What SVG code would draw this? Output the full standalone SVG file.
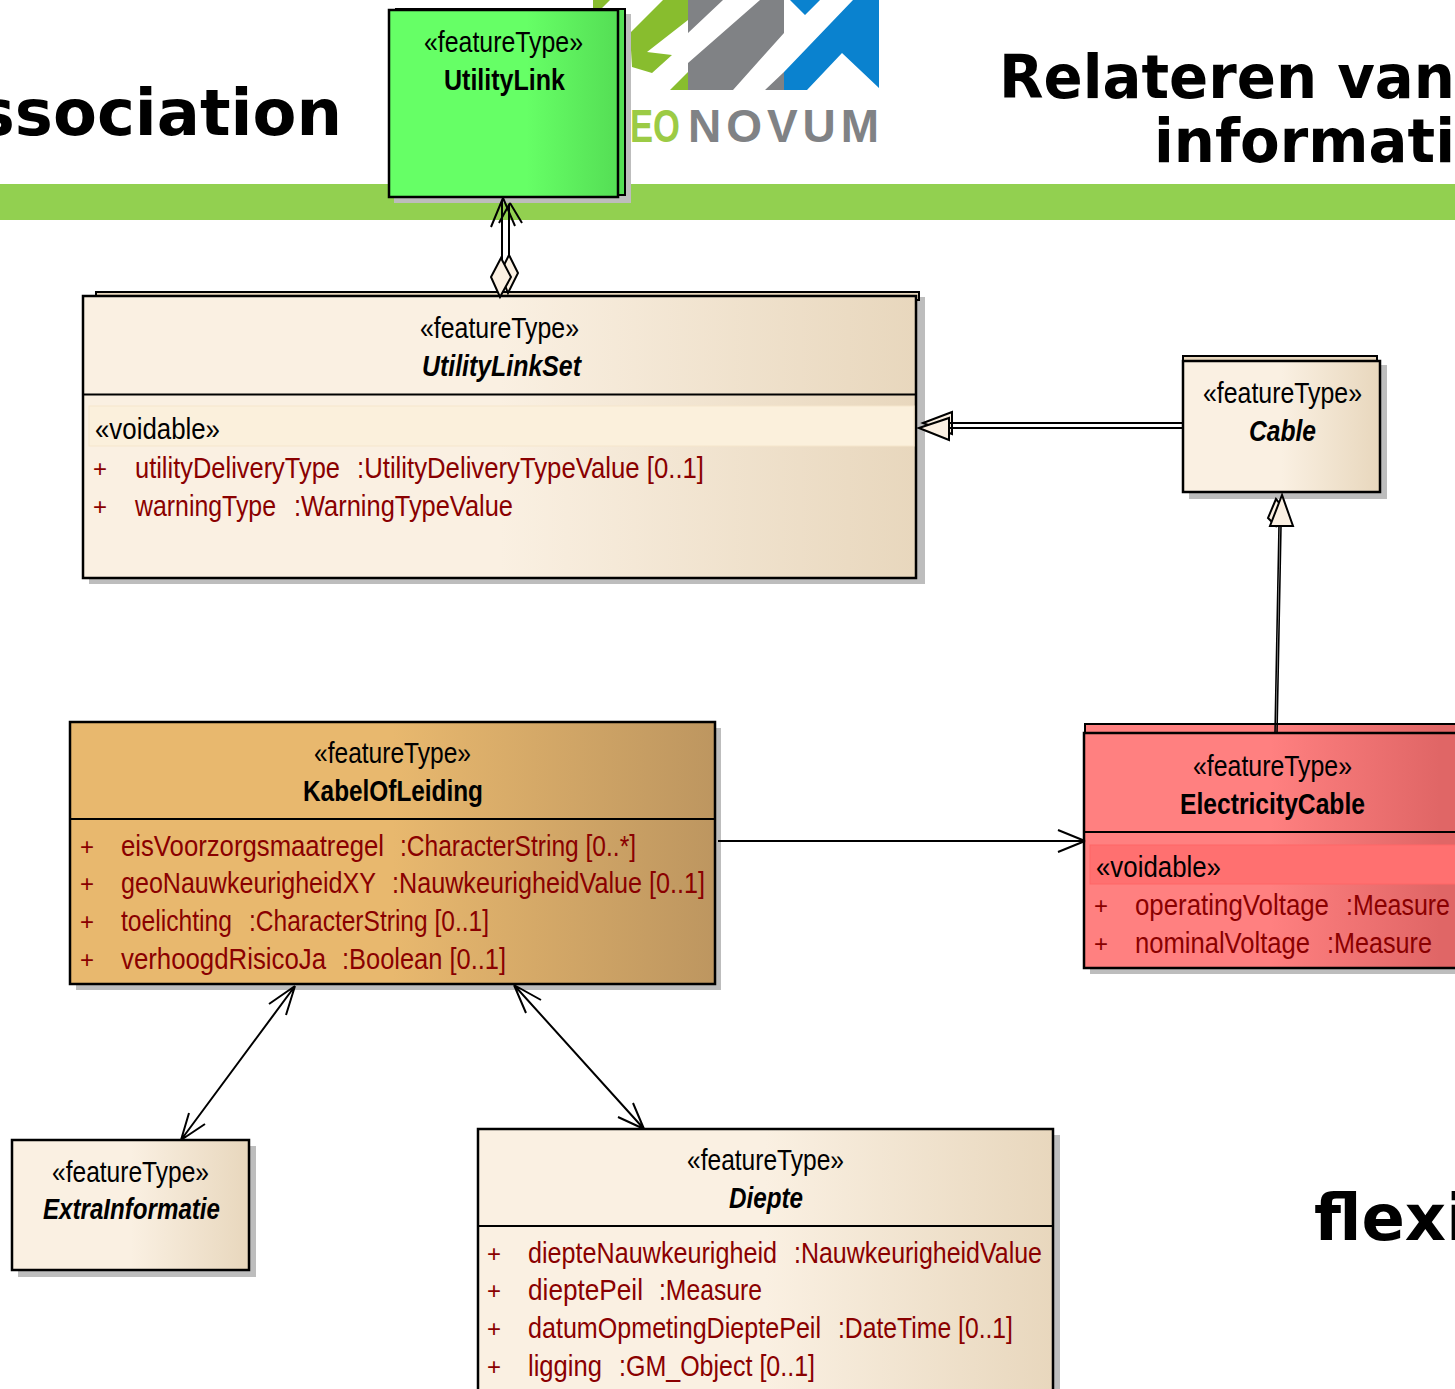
<svg xmlns="http://www.w3.org/2000/svg" width="1455" height="1389" viewBox="0 0 1455 1389">
<style>
text{font-family:"Liberation Sans",Arial,sans-serif;font-size:29px;fill:#000}
.t{font-family:"DejaVu Sans",sans-serif;font-weight:700;font-size:64px}
.r{font-size:60px}
.n{font-weight:700}.i{font-style:italic}
.a{fill:#8a0000}
.p{fill:#8a0000;font-size:24px}
.b{stroke:#000;stroke-width:2.5}
.s{fill:#bdbdbd}
.l{fill:none;stroke:#000;stroke-width:2}
.d{fill:none;stroke:#000;stroke-width:1.6}
.w{fill:#fbf0e2;stroke:#000;stroke-width:2}
.lg{font-size:46px;font-weight:700}
</style>
<defs>
<linearGradient id="cream"><stop offset=".5" stop-color="#faf0e2"/><stop offset="1" stop-color="#e8d7bd"/></linearGradient>
<linearGradient id="green"><stop offset=".6" stop-color="#66ff66"/><stop offset="1" stop-color="#55de55"/></linearGradient>
<linearGradient id="orange"><stop offset=".5" stop-color="#e8b86e"/><stop offset="1" stop-color="#bd9660"/></linearGradient>
<linearGradient id="red" gradientUnits="userSpaceOnUse" x1="1270" y1="0" x2="1440" y2="0"><stop offset="0" stop-color="#ff8080"/><stop offset="1" stop-color="#e06666"/></linearGradient>
</defs>
<rect width="1455" height="1389" fill="#fff"/>
<g id="background">
<rect y="184" width="1455" height="36" fill="#92d050"/>
<text class="t" x="342" y="135" text-anchor="end">ssociation</text>
<text class="t r" x="999" y="98" textLength="456" lengthAdjust="spacingAndGlyphs">Relateren van</text>
<text class="t r" x="1154" y="162" textLength="301" lengthAdjust="spacingAndGlyphs">informati</text>
<text class="t" x="1314" y="1240">flexi</text>
</g>
<g id="logo">
<path d="M593 0H610L600 10H593ZM630 33L663 0H688V20L647 52L672 55L652 73L632 67ZM670 90L688 72V90Z" fill="#88bd2e"/>
<path d="M688 0H723L688 33ZM760 0H784V33L733 90H688V63ZM765 90L784 72V90Z" fill="#808285"/>
<path d="M790 0H820L805 15ZM853 0H879V88L842 53L807 90H784V72Z" fill="#0a82cf"/>
<text class="lg" x="630" y="142" style="fill:#9ccb45" textLength="50" lengthAdjust="spacingAndGlyphs">EO</text>
<text class="lg" x="688" y="142" style="fill:#808285" textLength="191" lengthAdjust="spacing">NOVUM</text>
</g>
<g id="UtilityLink">
<rect class="s" x="394" y="14" width="237" height="189"/>
<rect x="396" y="9" width="229" height="186" fill="#55de55" stroke="#000" stroke-width="2"/>
<rect class="b" x="389" y="10" width="229" height="187" fill="url(#green)"/>
<text x="424" y="52" textLength="159" lengthAdjust="spacingAndGlyphs">«featureType»</text>
<text class="n" x="444" y="90" textLength="121" lengthAdjust="spacingAndGlyphs">UtilityLink</text>
</g>
<g id="UtilityLinkSet">
<rect class="s" x="89" y="297" width="836" height="287"/>
<rect x="96" y="292" width="823" height="8" fill="#e8d7bd" stroke="#000" stroke-width="2"/>
<rect class="b" x="83" y="296" width="833" height="282" fill="url(#cream)"/>
<path class="l" d="M83 394.500H916"/>
<rect x="89" y="406" width="825" height="40" fill="#fbf0dc" stroke="#f5e6cc"/>
<text x="420" y="338" textLength="159" lengthAdjust="spacingAndGlyphs">«featureType»</text>
<text class="n i" x="422" y="376" textLength="159" lengthAdjust="spacingAndGlyphs">UtilityLinkSet</text>
<text x="95" y="439" textLength="125" lengthAdjust="spacingAndGlyphs">«voidable»</text>
<text class="p" x="93" y="477">+</text>
<text class="a" x="135" y="478" textLength="205" lengthAdjust="spacingAndGlyphs">utilityDeliveryType</text>
<text class="a" x="357" y="478" textLength="347" lengthAdjust="spacingAndGlyphs">:UtilityDeliveryTypeValue [0..1]</text>
<text class="p" x="93" y="515">+</text>
<text class="a" x="135" y="516" textLength="141" lengthAdjust="spacingAndGlyphs">warningType</text>
<text class="a" x="294" y="516" textLength="219" lengthAdjust="spacingAndGlyphs">:WarningTypeValue</text>
</g>
<g id="Cable">
<rect class="s" x="1189" y="365" width="198" height="134"/>
<rect x="1183" y="356" width="194" height="8" fill="#e8d7bd" stroke="#000" stroke-width="2"/>
<rect class="b" x="1183" y="361" width="197" height="131" fill="url(#cream)"/>
<text x="1203" y="403" textLength="159" lengthAdjust="spacingAndGlyphs">«featureType»</text>
<text class="n i" x="1249" y="441" textLength="67" lengthAdjust="spacingAndGlyphs">Cable</text>
</g>
<g id="KabelOfLeiding">
<rect class="s" x="76" y="728" width="645" height="262"/>
<rect class="b" x="70" y="722" width="645" height="262" fill="url(#orange)"/>
<path class="l" d="M70 819H715"/>
<text x="314" y="763" textLength="157" lengthAdjust="spacingAndGlyphs">«featureType»</text>
<text class="n" x="303" y="801" textLength="180" lengthAdjust="spacingAndGlyphs">KabelOfLeiding</text>
<text class="p" x="80" y="855">+</text>
<text class="a" x="121" y="856" textLength="263" lengthAdjust="spacingAndGlyphs">eisVoorzorgsmaatregel</text>
<text class="a" x="400" y="856" textLength="236" lengthAdjust="spacingAndGlyphs">:CharacterString [0..*]</text>
<text class="p" x="80" y="892">+</text>
<text class="a" x="121" y="893" textLength="255" lengthAdjust="spacingAndGlyphs">geoNauwkeurigheidXY</text>
<text class="a" x="392" y="893" textLength="313" lengthAdjust="spacingAndGlyphs">:NauwkeurigheidValue [0..1]</text>
<text class="p" x="80" y="930">+</text>
<text class="a" x="121" y="931" textLength="111" lengthAdjust="spacingAndGlyphs">toelichting</text>
<text class="a" x="249" y="931" textLength="240" lengthAdjust="spacingAndGlyphs">:CharacterString [0..1]</text>
<text class="p" x="80" y="968">+</text>
<text class="a" x="121" y="969" textLength="205" lengthAdjust="spacingAndGlyphs">verhoogdRisicoJa</text>
<text class="a" x="342" y="969" textLength="164" lengthAdjust="spacingAndGlyphs">:Boolean [0..1]</text>
</g>
<g id="ElectricityCable">
<rect class="s" x="1090" y="739" width="380" height="235"/>
<rect x="1085" y="724" width="380" height="20" fill="url(#red)" stroke="#000" stroke-width="2"/>
<rect class="b" x="1084" y="733" width="380" height="235" fill="url(#red)"/>
<path class="l" d="M1084 832H1455"/>
<rect x="1090" y="845" width="375" height="39" fill="#ff7070" stroke="#ff6666"/>
<text x="1193" y="776" textLength="159" lengthAdjust="spacingAndGlyphs">«featureType»</text>
<text class="n" x="1180" y="814" textLength="185" lengthAdjust="spacingAndGlyphs">ElectricityCable</text>
<text x="1096" y="877" textLength="125" lengthAdjust="spacingAndGlyphs">«voidable»</text>
<text class="p" x="1094" y="914">+</text>
<text class="a" x="1135" y="915" textLength="194" lengthAdjust="spacingAndGlyphs">operatingVoltage</text>
<text class="a" x="1346" y="915" textLength="104" lengthAdjust="spacingAndGlyphs">:Measure</text>
<text class="p" x="1094" y="952">+</text>
<text class="a" x="1135" y="953" textLength="175" lengthAdjust="spacingAndGlyphs">nominalVoltage</text>
<text class="a" x="1327" y="953" textLength="105" lengthAdjust="spacingAndGlyphs">:Measure</text>
</g>
<g id="ExtraInformatie">
<rect class="s" x="18" y="1146" width="238" height="131"/>
<rect class="b" x="12" y="1140" width="237" height="130" fill="url(#cream)"/>
<text x="52" y="1182" textLength="157" lengthAdjust="spacingAndGlyphs">«featureType»</text>
<text class="n i" x="43" y="1219" textLength="177" lengthAdjust="spacingAndGlyphs">ExtraInformatie</text>
</g>
<g id="Diepte">
<rect class="s" x="484" y="1135" width="576" height="270"/>
<rect class="b" x="478" y="1129" width="575" height="270" fill="url(#cream)"/>
<path class="l" d="M478 1226H1053"/>
<text x="687" y="1170" textLength="157" lengthAdjust="spacingAndGlyphs">«featureType»</text>
<text class="n i" x="729" y="1208" textLength="74" lengthAdjust="spacingAndGlyphs">Diepte</text>
<text class="p" x="487" y="1262">+</text>
<text class="a" x="528" y="1263" textLength="249" lengthAdjust="spacingAndGlyphs">diepteNauwkeurigheid</text>
<text class="a" x="794" y="1263" textLength="248" lengthAdjust="spacingAndGlyphs">:NauwkeurigheidValue</text>
<text class="p" x="487" y="1299">+</text>
<text class="a" x="528" y="1300" textLength="115" lengthAdjust="spacingAndGlyphs">dieptePeil</text>
<text class="a" x="659" y="1300" textLength="103" lengthAdjust="spacingAndGlyphs">:Measure</text>
<text class="p" x="487" y="1337">+</text>
<text class="a" x="528" y="1338" textLength="293" lengthAdjust="spacingAndGlyphs">datumOpmetingDieptePeil</text>
<text class="a" x="838" y="1338" textLength="175" lengthAdjust="spacingAndGlyphs">:DateTime [0..1]</text>
<text class="p" x="487" y="1375">+</text>
<text class="a" x="528" y="1376" textLength="74" lengthAdjust="spacingAndGlyphs">ligging</text>
<text class="a" x="619" y="1376" textLength="196" lengthAdjust="spacingAndGlyphs">:GM_Object [0..1]</text>
</g>
<g id="connectors">
<path class="l" d="M509 204V256M510 203L499 223M510 203L522 223"/>
<path class="w" d="M509 255L518 273L508 293L500 273Z"/>
<path class="l" d="M502 200V260M503 198L491 227M503 198L515 226"/>
<path class="w" d="M501 258L511 277L500 297L491 277Z"/>
<path class="w" d="M923 423L952 412V434Z"/>
<path class="w" d="M919 428L949 418V440Z"/>
<path class="l" d="M950 423H1184M950 428H1184"/>
<path class="w" d="M1276 499L1268 518L1276 526L1285 510Z"/>
<path class="w" d="M1282 495L1270 526H1293Z"/>
<path class="d" d="M1279 526L1275 733M1281 526L1277 733"/>
<path class="l" d="M718 841H1085M1085 841L1058 830M1085 841L1058 852"/>
<path class="l" d="M295 986L181 1140M295 986L269 1004M295 986L286 1015M181 1140L189 1113M181 1140L205 1124"/>
<path class="l" d="M514 985L644 1129M514 985L526 1013M514 985L541 1000M644 1129L633 1103M644 1129L618 1117"/>
</g>
</svg>
